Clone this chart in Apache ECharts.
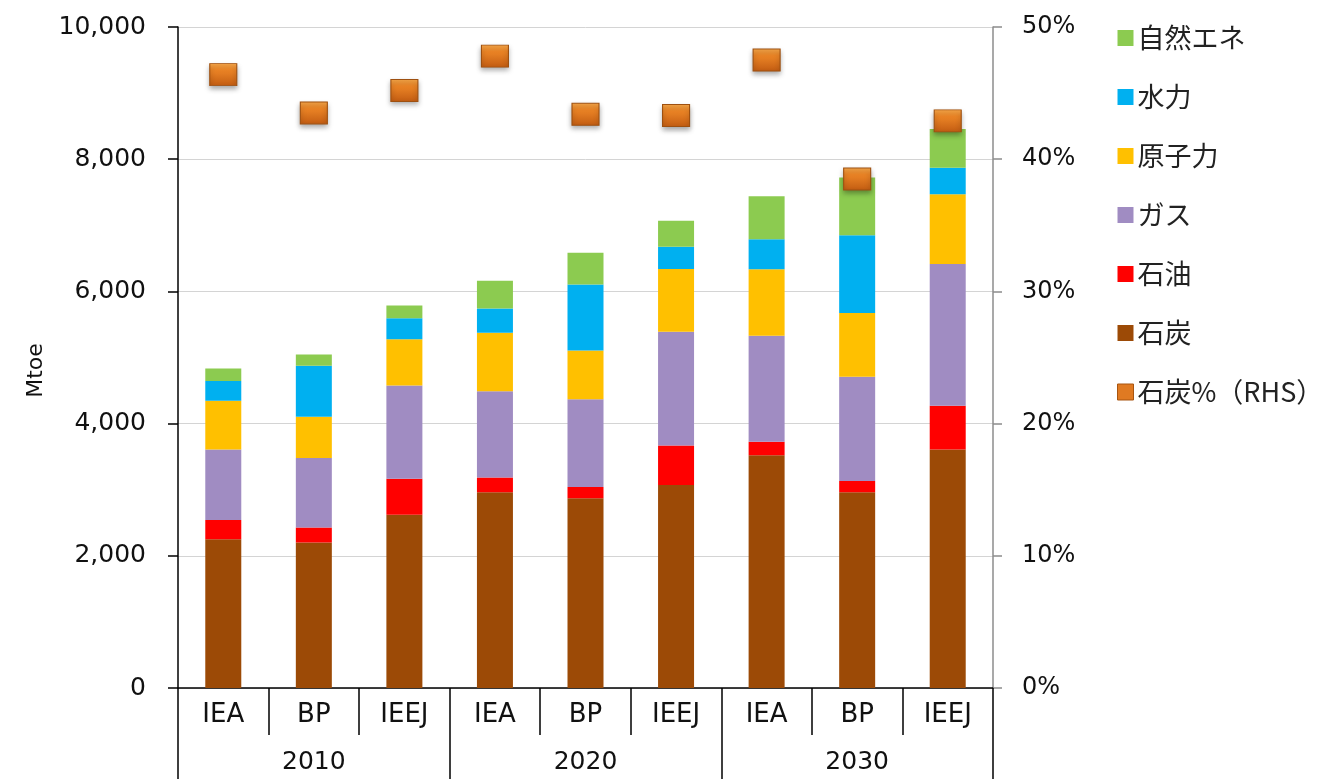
<!DOCTYPE html>
<html>
<head>
<meta charset="utf-8">
<script src="https://cdn.jsdelivr.net/npm/echarts@6/dist/echarts.min.js"></script>
<style>
html,body{margin:0;padding:0;background:#fff;}
#chart{width:1322px;height:779px;}
</style>
</head>
<body>
<div id="chart"></div>
<script>
// ---- data ----
const categories = ['IEA','BP','IEEJ','IEA','BP','IEEJ','IEA','BP','IEEJ'];
const years = ['2010','2020','2030'];
const coal    = [2250, 2200, 2620, 2960, 2870, 3070, 3520, 2960, 3610];
const oil     = [ 290,  230,  545,  225,  170,  600,  205,  170,  660];
const gas     = [1070, 1050, 1410, 1305, 1330, 1720, 1605, 1580, 2145];
const nuclear = [ 735,  625,  700,  885,  735,  950, 1005,  965, 1055];
const hydro   = [ 300,  770,  320,  365, 1000,  335,  455, 1175,  400];
const renew   = [ 190,  170,  190,  420,  480,  395,  650,  875,  585];
const coalShare = [46.4, 43.5, 45.2, 47.8, 43.4, 43.3, 47.5, 38.5, 42.9];
const leftTicks = [0, 2000, 4000, 6000, 8000, 10000];
const rightTicks = [0, 10, 20, 30, 40, 50];

const names = {coal:'石炭', oil:'石油', gas:'ガス', nuclear:'原子力', hydro:'水力', renew:'自然エネ', share:'石炭%（RHS）'};
const colors = {coal:'#9C4A06', oil:'#FF0000', gas:'#A08CC2', nuclear:'#FFC000', hydro:'#00B0F0', renew:'#8CCB50'};

const chart = echarts.init(document.getElementById('chart'), null, {renderer:'canvas'});
const latin = 'DejaVu Sans';
const cjk = '"Noto Sans CJK JP", "DejaVu Sans"';

function barSeries(key, data){
  return {
    name: names[key], type:'bar', stack:'total', data:data,
    xAxisIndex:0, yAxisIndex:0, barWidth:36,
    itemStyle:{color:colors[key]}, emphasis:{disabled:true}
  };
}

const markerFill = new echarts.graphic.LinearGradient(0,0,0,1,[
  {offset:0, color:'#F7A84A'},
  {offset:0.3, color:'#EC8526'},
  {offset:1, color:'#C25C12'}
]);

const option = {
  animation:false,
  backgroundColor:'#fff',
  grid:{left:178, right:329, top:27, bottom:91, containLabel:false},
  legend:{
    orient:'vertical', left:1112, top:19,
    itemWidth:16, itemHeight:16, itemGap:31,
    icon:'rect',
    textStyle:{fontFamily:cjk, fontSize:27, color:'#222', lineHeight:28, padding:[0,0,0,-1]},
    data:[names.renew, names.hydro, names.nuclear, names.gas, names.oil, names.coal,
          {name:names.share, itemStyle:{color:'#E07A22', borderColor:'#A85510', borderWidth:1, opacity:1}}]
  },
  xAxis:[
    {
      type:'category', data:categories, position:'bottom', boundaryGap:true,
      axisLine:{show:true, lineStyle:{color:'#000', width:1.5}},
      axisTick:{show:true, length:47, interval:0, lineStyle:{color:'#000', width:1.5}},
      axisLabel:{interval:0, margin:14, fontFamily:latin, fontSize:26, color:'#111'},
      splitLine:{show:false}
    },
    {
      type:'category', data:years, position:'bottom', boundaryGap:true,
      axisLine:{show:false},
      axisTick:{show:true, length:120, interval:0, lineStyle:{color:'#000', width:1.5}},
      axisLabel:{interval:0, margin:62, fontFamily:latin, fontSize:25, color:'#111'},
      splitLine:{show:false}
    }
  ],
  yAxis:[
    {
      type:'value', min:leftTicks[0], max:leftTicks[leftTicks.length-1], interval:2000,
      position:'left',
      name:'Mtoe', nameLocation:'middle', nameGap:130, nameRotate:90,
      nameTextStyle:{fontFamily:latin, fontSize:22, color:'#111', padding:[0,0,0,-26]},
      axisLine:{show:true, lineStyle:{color:'#000', width:1.5}},
      axisTick:{show:true, length:10, lineStyle:{color:'#000', width:1.5}},
      axisLabel:{margin:32, fontFamily:latin, fontSize:25, color:'#111',
        formatter:function(v){return v.toLocaleString('en-US');}},
      splitLine:{show:true, lineStyle:{color:'#D4D4D4', width:1}}
    },
    {
      type:'value', min:rightTicks[0], max:rightTicks[rightTicks.length-1], interval:10,
      position:'right',
      axisLine:{show:true, lineStyle:{color:'#8C8C8C', width:1.5}},
      axisTick:{show:true, length:9, lineStyle:{color:'#8C8C8C', width:1.5}},
      axisLabel:{margin:29, fontFamily:latin, fontSize:24, color:'#111', formatter:'{value}%'},
      splitLine:{show:false}
    }
  ],
  series:[
    barSeries('coal', coal),
    barSeries('oil', oil),
    barSeries('gas', gas),
    barSeries('nuclear', nuclear),
    barSeries('hydro', hydro),
    barSeries('renew', renew),
    {
      name:names.share, type:'scatter', data:coalShare, xAxisIndex:0, yAxisIndex:1,
      symbol:'rect', symbolSize:[27,22], z:5,
      itemStyle:{color:markerFill, opacity:1, borderColor:'#9E5010', borderWidth:1,
        shadowBlur:5, shadowColor:'rgba(0,0,0,0.35)', shadowOffsetY:3},
      emphasis:{disabled:true}
    }
  ]
};
chart.setOption(option);
</script>
</body>
</html>
